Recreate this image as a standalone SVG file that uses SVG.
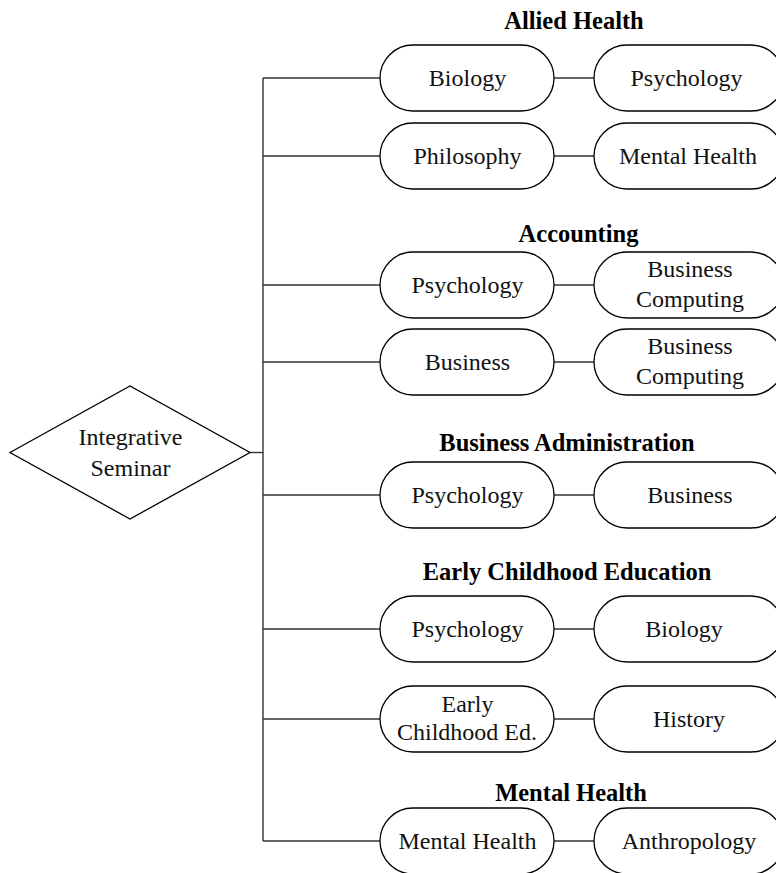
<svg xmlns="http://www.w3.org/2000/svg" width="776" height="873" viewBox="0 0 776 873">
  <style>
    .bg { fill: #ffffff; }
    .shape { fill: #ffffff; stroke: #000000; stroke-width: 1.3; }
    .wire { fill: none; stroke: #333333; stroke-width: 1.4; }
    .label { font-family: "Liberation Serif", "Times New Roman", serif; font-size: 24px; fill: #111111; text-anchor: middle; }
    .head { font-family: "Liberation Serif", "Times New Roman", serif; font-size: 24.5px; font-weight: bold; fill: #000000; text-anchor: middle; }
  </style>
  <defs>
    <rect id="pillL" x="0" y="-33" width="174" height="66" rx="33" ry="33"/>
    <rect id="pillR" x="0" y="-33" width="190" height="66" rx="33" ry="33"/>
  </defs>
  <rect class="bg" x="0" y="0" width="776" height="873"/>

  <!-- connectors: trunk, branches and pair links -->
  <g id="connectors" class="wire">
    <line x1="250" y1="452.5" x2="263" y2="452.5"/>
    <line x1="263" y1="78" x2="263" y2="841"/>
    <line x1="263" y1="78" x2="380" y2="78"/>
    <line x1="263" y1="156" x2="380" y2="156"/>
    <line x1="263" y1="285" x2="380" y2="285"/>
    <line x1="263" y1="362" x2="380" y2="362"/>
    <line x1="263" y1="495" x2="380" y2="495"/>
    <line x1="263" y1="629" x2="380" y2="629"/>
    <line x1="263" y1="719" x2="380" y2="719"/>
    <line x1="263" y1="841" x2="380" y2="841"/>
    <line x1="554" y1="78" x2="594" y2="78"/>
    <line x1="554" y1="156" x2="594" y2="156"/>
    <line x1="554" y1="285" x2="594" y2="285"/>
    <line x1="554" y1="362" x2="594" y2="362"/>
    <line x1="554" y1="495" x2="594" y2="495"/>
    <line x1="554" y1="629" x2="594" y2="629"/>
    <line x1="554" y1="719" x2="594" y2="719"/>
    <line x1="554" y1="841" x2="594" y2="841"/>
  </g>

  <!-- root -->
  <g id="integrative-seminar">
    <polygon class="shape" points="10,452.5 130,386 250,452.5 130,519"/>
    <text class="label" x="130.5" y="445">Integrative</text>
    <text class="label" x="130.5" y="476">Seminar</text>
  </g>

  <!-- group headings -->
  <g id="heading-allied-health"><text class="head" x="574" y="29">Allied Health</text></g>
  <g id="heading-accounting"><text class="head" x="578.5" y="242">Accounting</text></g>
  <g id="heading-business-administration"><text class="head" x="567" y="451">Business Administration</text></g>
  <g id="heading-early-childhood-education"><text class="head" x="567" y="580">Early Childhood Education</text></g>
  <g id="heading-mental-health"><text class="head" x="571" y="801">Mental Health</text></g>

  <!-- Allied Health -->
  <g id="ah-biology">
    <use href="#pillL" class="shape" x="380" y="78"/>
    <text class="label" x="467.5" y="86">Biology</text>
  </g>
  <g id="ah-psychology">
    <use href="#pillR" class="shape" x="594" y="78"/>
    <text class="label" x="686.5" y="86">Psychology</text>
  </g>
  <g id="ah-philosophy">
    <use href="#pillL" class="shape" x="380" y="156"/>
    <text class="label" x="467.5" y="164">Philosophy</text>
  </g>
  <g id="ah-mental-health">
    <use href="#pillR" class="shape" x="594" y="156"/>
    <text class="label" x="688" y="164">Mental Health</text>
  </g>

  <!-- Accounting -->
  <g id="acc-psychology">
    <use href="#pillL" class="shape" x="380" y="285"/>
    <text class="label" x="467.5" y="293">Psychology</text>
  </g>
  <g id="acc-business-computing-1">
    <use href="#pillR" class="shape" x="594" y="285"/>
    <text class="label" x="690" y="277">Business</text>
    <text class="label" x="690" y="307">Computing</text>
  </g>
  <g id="acc-business">
    <use href="#pillL" class="shape" x="380" y="362"/>
    <text class="label" x="467.5" y="370">Business</text>
  </g>
  <g id="acc-business-computing-2">
    <use href="#pillR" class="shape" x="594" y="362"/>
    <text class="label" x="690" y="354">Business</text>
    <text class="label" x="690" y="384">Computing</text>
  </g>

  <!-- Business Administration -->
  <g id="ba-psychology">
    <use href="#pillL" class="shape" x="380" y="495"/>
    <text class="label" x="467.5" y="503">Psychology</text>
  </g>
  <g id="ba-business">
    <use href="#pillR" class="shape" x="594" y="495"/>
    <text class="label" x="690" y="503">Business</text>
  </g>

  <!-- Early Childhood Education -->
  <g id="ece-psychology">
    <use href="#pillL" class="shape" x="380" y="629"/>
    <text class="label" x="467.5" y="637">Psychology</text>
  </g>
  <g id="ece-biology">
    <use href="#pillR" class="shape" x="594" y="629"/>
    <text class="label" x="684" y="637">Biology</text>
  </g>
  <g id="ece-early-childhood">
    <use href="#pillL" class="shape" x="380" y="719"/>
    <text class="label" x="467.5" y="712">Early</text>
    <text class="label" x="467" y="740">Childhood Ed.</text>
  </g>
  <g id="ece-history">
    <use href="#pillR" class="shape" x="594" y="719"/>
    <text class="label" x="689" y="727">History</text>
  </g>

  <!-- Mental Health -->
  <g id="mh-mental-health">
    <use href="#pillL" class="shape" x="380" y="841"/>
    <text class="label" x="467.5" y="849">Mental Health</text>
  </g>
  <g id="mh-anthropology">
    <use href="#pillR" class="shape" x="594" y="841"/>
    <text class="label" x="689" y="849">Anthropology</text>
  </g>
</svg>
